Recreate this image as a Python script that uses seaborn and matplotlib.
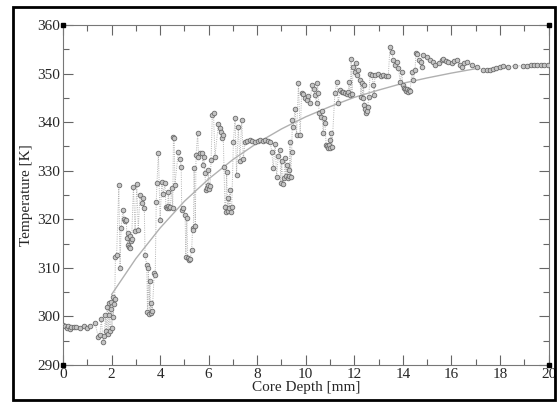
import numpy as np
import pandas as pd
import matplotlib
matplotlib.use("Agg")
import matplotlib.pyplot as plt
from matplotlib.patches import Rectangle
from matplotlib.ticker import MultipleLocator
import seaborn as sns

depth_mm = [
    0.00, 0.08, 0.15, 0.22, 0.28, 0.35, 0.45, 0.55, 0.70, 0.85, 1.00, 1.12, 1.32,
    1.45, 1.52, 1.58, 1.65, 1.70, 1.75, 1.78, 1.82, 1.86, 1.88, 1.91, 1.94, 1.96,
    1.99, 2.02, 2.04, 2.07, 2.10, 2.13, 2.16, 2.21, 2.30, 2.35, 2.39, 2.47, 2.52,
    2.57, 2.61, 2.63, 2.66, 2.69, 2.71, 2.74, 2.77, 2.80, 2.83, 2.90, 2.97, 3.04,
    3.10, 3.17, 3.24, 3.31, 3.35, 3.38, 3.45, 3.48, 3.52, 3.55, 3.58, 3.61, 3.64,
    3.68, 3.76, 3.80, 3.84, 3.87, 3.93, 4.00, 4.07, 4.13, 4.20, 4.24, 4.28, 4.31,
    4.34, 4.38, 4.42, 4.48, 4.52, 4.55, 4.58, 4.61, 4.75, 4.82, 4.87, 4.89, 4.95,
    5.03, 5.06, 5.10, 5.14, 5.19, 5.24, 5.30, 5.34, 5.37, 5.40, 5.45, 5.48, 5.55,
    5.58, 5.65, 5.72, 5.76, 5.80, 5.85, 5.88, 5.92, 5.96, 5.99, 6.02, 6.06, 6.10,
    6.15, 6.20, 6.26, 6.40, 6.45, 6.50, 6.54, 6.60, 6.63, 6.67, 6.70, 6.74, 6.78,
    6.81, 6.85, 6.88, 6.92, 6.95, 7.02, 7.09, 7.15, 7.22, 7.29, 7.36, 7.43, 7.50,
    7.60, 7.70, 7.80, 7.91, 8.02, 8.12, 8.22, 8.32, 8.43, 8.53, 8.60, 8.66, 8.74,
    8.80, 8.87, 8.94, 8.97, 9.01, 9.05, 9.10, 9.15, 9.18, 9.22, 9.25, 9.29, 9.32,
    9.35, 9.38, 9.42, 9.45, 9.49, 9.56, 9.62, 9.70, 9.77, 9.83, 9.90, 9.97, 10.04,
    10.10, 10.18, 10.25, 10.32, 10.38, 10.45, 10.48, 10.52, 10.55, 10.62, 10.66,
    10.72, 10.76, 10.79, 10.84, 10.87, 10.91, 10.95, 10.98, 11.00, 11.04, 11.08,
    11.20, 11.28, 11.34, 11.41, 11.48, 11.55, 11.62, 11.68, 11.75, 11.78, 11.83,
    11.87, 11.90, 11.96, 12.03, 12.05, 12.10, 12.17, 12.24, 12.27, 12.31, 12.34,
    12.38, 12.41, 12.44, 12.47, 12.51, 12.55, 12.60, 12.65, 12.72, 12.79, 12.82,
    12.85, 12.99, 13.10, 13.20, 13.30, 13.40, 13.47, 13.54, 13.61, 13.68, 13.75,
    13.82, 13.89, 13.96, 13.99, 14.03, 14.09, 14.13, 14.17, 14.22, 14.27, 14.30,
    14.37, 14.43, 14.50, 14.54, 14.60, 14.67, 14.74, 14.80, 14.85, 14.98, 15.12,
    15.25, 15.33, 15.47, 15.60, 15.67, 15.78, 15.88, 16.02, 16.12, 16.22, 16.36,
    16.43, 16.50, 16.63, 16.84, 17.05, 17.32, 17.46, 17.60, 17.72, 17.82, 18.00,
    18.14, 18.35, 18.62, 18.97, 19.12, 19.26, 19.40, 19.54, 19.68, 19.82, 19.96,
]
temp_k = [
    298.2, 298.0, 297.6, 298.1, 297.5, 297.9, 297.8, 297.9, 297.6, 298.0, 297.6, 298.1, 298.7,
    295.8, 296.2, 299.5, 294.8, 296.0, 300.3, 297.0, 302.0, 296.3, 302.8, 300.2, 297.0, 303.0,
    301.5, 297.6, 304.0, 299.8, 302.6, 303.5, 312.3, 312.7, 327.0, 310.0, 318.2, 322.0, 320.0,
    319.7, 319.9, 316.2, 314.8, 317.2, 314.3, 316.5, 314.0, 315.6, 316.0, 326.7, 317.5, 327.2,
    317.8, 325.0, 323.3, 324.3, 322.3, 312.6, 310.6, 301.0, 310.0, 300.6, 307.2, 300.8, 302.8,
    301.2, 309.0, 308.5, 323.6, 327.4, 333.6, 319.9, 327.7, 325.3, 327.4, 322.6, 322.4, 322.8,
    325.7, 322.3, 322.6, 326.4, 322.4, 337.0, 336.8, 327.1, 333.9, 332.5, 330.8, 321.9, 322.3,
    320.9, 312.3, 320.2, 312.0, 311.6, 311.8, 313.7, 318.3, 317.8, 330.5, 318.6, 333.2, 337.7,
    332.9, 333.6, 333.7, 331.2, 332.9, 329.5, 326.0, 326.4, 327.0, 330.1, 326.3, 326.8, 332.2,
    341.5, 341.8, 332.9, 339.6, 338.8, 338.0, 336.7, 337.3, 330.8, 322.6, 321.6, 329.8, 321.8,
    324.3, 322.3, 326.0, 321.6, 322.5, 336.0, 340.8, 329.1, 339.0, 331.9, 340.4, 332.5, 336.0,
    336.2, 336.3, 336.1, 336.0, 336.2, 336.3, 336.2, 336.3, 336.1, 336.0, 333.9, 330.5, 335.6,
    328.8, 333.0, 334.3, 327.4, 331.9, 327.3, 328.4, 332.6, 328.9, 331.2, 328.4, 330.1, 329.0,
    336.0, 328.8, 333.9, 340.4, 339.1, 342.8, 337.3, 348.0, 337.3, 346.0, 345.7, 344.9, 344.6,
    345.3, 343.9, 347.6, 346.9, 345.6, 343.9, 348.0, 346.0, 341.8, 341.1, 342.2,
    337.7, 340.8, 339.8, 335.3, 335.0, 334.6, 335.2, 334.6, 336.3, 337.7, 334.8,
    346.0, 348.3, 343.9, 346.6, 346.2, 346.3, 346.0, 345.8, 346.2, 348.3, 345.6,
    353.1, 345.8, 351.4, 350.4, 352.1, 349.7, 350.7, 348.7, 345.2, 348.0, 344.9,
    347.6, 343.5, 342.8, 341.8, 342.2, 343.2, 345.2, 350.0, 349.7, 347.6, 345.6,
    349.7, 350.0, 349.6, 349.7, 349.5, 349.4, 355.5, 354.5, 352.8, 351.8, 352.4,
    351.1, 348.3, 350.4, 347.6, 347.0, 346.9, 346.5, 346.8, 346.3, 346.6, 346.4,
    350.4, 348.7, 350.7, 354.2, 354.0, 352.8, 352.3, 351.4, 353.8, 353.4, 352.8,
    352.4, 351.8, 352.1, 352.8, 353.1, 352.5, 352.4, 352.1, 352.6, 352.8, 351.8,
    351.4, 352.1, 352.4, 351.8, 351.4, 350.7, 350.7, 350.8, 351.0, 351.1, 351.4,
    351.6, 351.4, 351.6, 351.6, 351.6, 351.7, 351.7, 351.7, 351.7, 351.7, 351.7,
]

# smooth fitted profile
fit_depth = [2.0, 3.0, 4.0, 5.0, 6.0, 7.0, 8.0, 9.0, 10.0, 11.0, 12.0, 13.0,
             14.0, 15.0, 16.0, 17.0, 17.1]
fit_temp = [304.5, 311.9, 318.2, 323.7, 328.3, 332.3, 335.7, 338.6, 341.1,
            343.2, 345.1, 346.6, 348.0, 349.1, 350.1, 351.0, 351.1]

x_ticks = list(range(0, 21, 2))
y_ticks = list(range(290, 361, 10))

sns.set_style("ticks")
plt.rcParams["font.family"] = ["Liberation Serif", "DejaVu Serif"]

df = pd.DataFrame({"depth": depth_mm, "temp": temp_k})
fit = pd.DataFrame({"depth": fit_depth, "temp": fit_temp})

fig = plt.figure(figsize=(5.57, 4.05), dpi=100)
ax = fig.add_axes([63 / 557, 1 - 365 / 405, (548.5 - 63) / 557, (365 - 25) / 405])

# dotted connection between consecutive samples
sns.lineplot(data=df, x="depth", y="temp", sort=False, estimator=None, ax=ax,
             color="#b4b4b4", lw=0.7, linestyle=(0, (1, 1.3)), zorder=1)
sns.lineplot(data=fit, x="depth", y="temp", sort=False, estimator=None, ax=ax,
             color="#b0b0b0", lw=1.0, zorder=2)
sns.scatterplot(data=df, x="depth", y="temp", ax=ax, s=11, marker="o",
                facecolor="#c4c4c4", edgecolor="#6a6a6a", linewidth=0.6, zorder=3)

ax.set_xlim(0, 20)
ax.set_ylim(290, 360)
ax.set_xticks(x_ticks)
ax.set_yticks(y_ticks)
ax.xaxis.set_minor_locator(MultipleLocator(1))
ax.yaxis.set_minor_locator(MultipleLocator(5))
ax.tick_params(which="both", direction="in", top=True, right=True,
               labeltop=False, labelright=False, color="#666666", width=0.8,
               labelsize=11, pad=2)
ax.tick_params(which="major", length=7)
ax.tick_params(which="minor", length=4)
for sp in ax.spines.values():
    sp.set_color("#777777")
    sp.set_linewidth(0.8)

ax.set_xlabel("Core Depth [mm]", fontsize=11, labelpad=0)
ax.set_ylabel("Temperature [K]", fontsize=11, labelpad=3)

# corner markers
ax.plot([0, 20, 0, 20], [290, 290, 360, 360], ls="none", marker="s", ms=3.5,
        color="black", clip_on=False, zorder=5)

# outer frame around the whole chart
fig.patches.append(Rectangle((13 / 557, 5 / 405), (555 - 13) / 557, (399 - 6) / 405,
                             transform=fig.transFigure, fill=False,
                             edgecolor="black", lw=2))

fig.savefig("out.png", dpi=100)
